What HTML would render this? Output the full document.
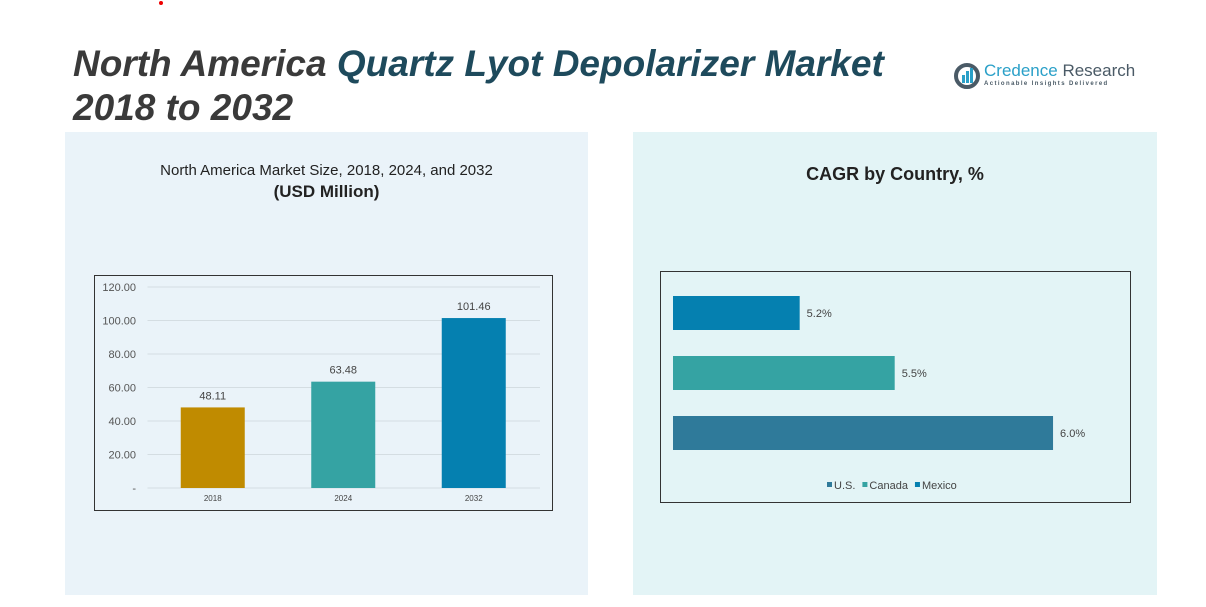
<!DOCTYPE html>
<html><head><meta charset="utf-8"><style>
body{margin:0;width:1206px;height:607px;background:#fff;position:relative;overflow:hidden;font-family:"Liberation Sans",sans-serif}
.abs{position:absolute}
</style></head><body>
<div class="abs" style="left:159px;top:1px;width:4px;height:4px;border-radius:2px;background:#e00"></div>
<div class="abs" style="left:73px;top:42px;font-size:37px;font-weight:bold;font-style:italic;color:#3a3a3a;line-height:44px">North America <span style="color:#1e4a5c">Quartz Lyot Depolarizer Market</span><br>2018 to 2032</div>
<div class="abs" style="left:953px;top:60px;width:1800px">
<svg width="28" height="28" style="position:absolute;left:0;top:2px"><circle cx="14" cy="14" r="11" fill="none" stroke="#4a5a66" stroke-width="4"/><rect x="9" y="13" width="3" height="8" fill="#2aa0c8"/><rect x="13" y="9" width="3" height="12" fill="#2aa0c8"/><rect x="17" y="6" width="3" height="15" fill="#2aa0c8"/></svg>
<div style="position:absolute;left:31px;top:1px;font-size:17px;color:#2aa0c8;white-space:nowrap">Credence <span style="color:#4a5a66">Research</span></div>
<div style="position:absolute;left:31px;top:21px;font-size:6px;letter-spacing:1.4px;color:#4a5a66;white-space:nowrap;font-weight:bold">Actionable Insights Delivered</div>
</div>
<div class="abs" style="left:65px;top:132px;width:523px;height:463px;background:#eaf3f9"></div>
<div class="abs" style="left:633px;top:132px;width:524px;height:463px;background:#e3f4f6"></div>
<div class="abs" style="left:65px;width:523px;top:162px;text-align:center;font-size:15px;color:#222">North America Market Size, 2018, 2024, and 2032<br><b style="font-size:17px;line-height:26px">(USD Million)</b></div>
<div class="abs" style="left:633px;width:524px;top:164px;text-align:center;font-size:18px;font-weight:bold;color:#222">CAGR by Country, %</div>
<svg class="abs" style="left:0;top:0" width="1206" height="607" id="svg"></svg>
<script>
const years=["2018","2024","2032"];
const sizes=[48.11,63.48,101.46];
const yTicks=[0,20,40,60,80,100,120];
const yTickLabels=["-","20.00","40.00","60.00","80.00","100.00","120.00"];
const countries=["Mexico","Canada","U.S."];
const cagr=[5.2,5.5,6.0];
const cagrLabels=["5.2%","5.5%","6.0%"];
const legendNames=["U.S.","Canada","Mexico"];
const NS="http://www.w3.org/2000/svg";
const svg=document.getElementById('svg');
function mk(t,a,txt){const e=document.createElementNS(NS,t);for(const k in a)e.setAttribute(k,a[k]);if(txt!==undefined)e.textContent=txt;svg.appendChild(e);return e;}
let f=mk('rect',{x:94.5,y:275.5,width:458,height:235,fill:'none',stroke:'#333'});


const y=v=>488-v*(201/120);
const x0=147.5,bw=130.5;
yTicks.forEach((t,i)=>{
 let l=mk('line',{x1:x0,x2:540,y1:y(t),y2:y(t),stroke:'#d4dde2'});
 
 
 let tx=mk('text',{x:136,y:y(t)+4,'text-anchor':'end','font-size':11,fill:'#555'},yTickLabels[i]);
 
 
});
const bcol=['#c08b00','#35a3a3','#0580b0'];
years.forEach((yr,i)=>{
 const cx=x0+bw*(i+0.5);
 let r=mk('rect',{x:cx-32,y:y(sizes[i]),width:64,height:y(0)-y(sizes[i]),fill:bcol[i]});
 
 
 let v=mk('text',{x:cx,y:y(sizes[i])-8,'text-anchor':'middle','font-size':11,fill:'#444'},sizes[i].toFixed(2));
 
 
 let c=mk('text',{x:cx,y:501,'text-anchor':'middle','font-size':8,fill:'#444'},yr);
 
 
});
let f2=mk('rect',{x:660.5,y:271.5,width:470,height:231,fill:'none',stroke:'#333'});


const xs=v=>673+(v-4.8)*316.7;
const hcol={"Mexico":'#0580b0',"Canada":'#35a3a3',"U.S.":'#2f7a9a'};
countries.forEach((c,i)=>{
 const top=296+i*60;
 let r=mk('rect',{x:673,y:top,width:xs(cagr[i])-673,height:34,fill:hcol[c]});
 
 
 let t=mk('text',{x:xs(cagr[i])+7,y:top+21,'font-size':11,fill:'#444'},cagrLabels[i]);
 
 
});
let lx=827;
legendNames.forEach(n=>{
 let s=mk('rect',{x:lx,y:482,width:5,height:5,fill:hcol[n]});
 
 
 let t=mk('text',{x:lx+7,y:489,'font-size':11,fill:'#444'},n);
 
 
 lx+=7+t.getComputedTextLength()+7;
});
</script>
</body></html>
